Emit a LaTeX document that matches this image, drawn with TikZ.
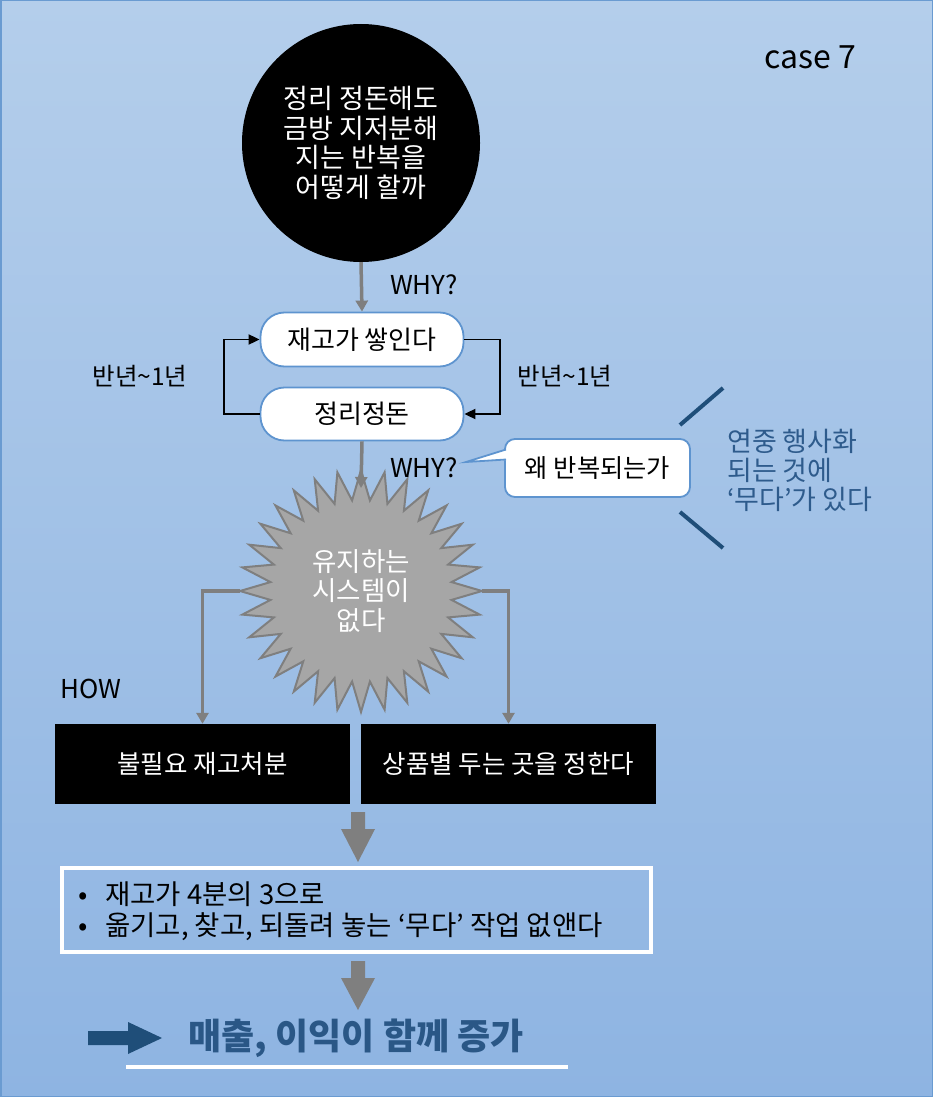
\documentclass[tikz,border=0pt]{standalone}
\usepackage{fontspec}
\setmainfont{Noto Sans CJK KR}
\usetikzlibrary{arrows.meta,calc}
\definecolor{bgtop}{HTML}{B4CEEB}
\definecolor{bgbot}{HTML}{8EB4E2}
\definecolor{framec}{HTML}{6A9BD1}
\definecolor{boxline}{HTML}{5E94CF}
\definecolor{arrgray}{HTML}{7F7F7F}
\definecolor{starfill}{HTML}{A6A6A6}
\definecolor{darkblue}{HTML}{1F4E79}
\definecolor{textblue}{HTML}{2E5B8C}
\definecolor{titleblue}{HTML}{2A5786}
\begin{document}
\begin{tikzpicture}[x=1pt,y=-1pt,
  txt/.style={inner sep=0pt, font=\fontsize{26}{30}\selectfont},
  pill/.style={draw=boxline, line width=1.8pt, fill=white, rounded corners=24pt,
    minimum width=203pt, minimum height=54pt, inner sep=0pt, font=\fontsize{26}{30}\selectfont},
  blackbox/.style={fill=black, text=white, minimum width=295pt, minimum height=80pt,
    inner sep=0pt, font=\fontsize{25.5}{30}\selectfont},
  grayarrow/.style={draw=arrgray, line width=3.5pt, -{Triangle[length=11pt,width=12pt]}},
  blackarrow/.style={draw=black, line width=1.8pt, -{Triangle[length=11pt,width=10pt]}},
  slash/.style={draw=darkblue, line width=4pt},
]
\shade[top color=bgtop, bottom color=bgbot] (0,0) rectangle (933,1097);
\draw[framec, line width=1.5pt] (0.75,0.75) rectangle (932.25,1096.25);
\useasboundingbox (0,0) rectangle (933,1097);

% title circle
\node[circle, fill=black, minimum size=238pt, inner sep=0pt, text=white, align=center,
  font=\fontsize{27}{29.5}\selectfont] (q) at (361,143)
  {정리 정돈해도\\금방 지저분해\\지는 반복을\\어떻게 할까};
\node[txt, font=\fontsize{32}{36}\selectfont] (case) at (810,57) {case 7};

% loop boxes
\node[pill] (b1) at (362,339.5) {재고가 쌓인다};
\node[pill, minimum height=53pt] (b2) at (362,414) {정리정돈};
\coordinate (rx) at (500,0);
\coordinate (lx) at (224,0);
\draw[grayarrow] (q.south) -- (b1.north);
\node[txt] (why1) at (424,285) {WHY?};
\draw[blackarrow] (b1.east) -- (b1.east -| rx) |- (b2.east);
\draw[blackarrow] (b2.west) -- (b2.west -| lx) |- (b1.west);
\node[txt, font=\fontsize{24.5}{30}\selectfont] (half1) at (140,376) {반년\string~1년};
\node[txt, font=\fontsize{24.5}{30}\selectfont] (half2) at (565,376) {반년\string~1년};

% star
\node[circle, minimum size=242pt, inner sep=0pt] (star) at (361,591) {};
\draw[fill=starfill, draw=arrgray, line width=2pt]
  plot[samples at={0,...,63}, variable=\k]
  ({361+ifthenelse(mod(\k,2)==0,121,91)*cos(\k*5.625)},
   {591+ifthenelse(mod(\k,2)==0,121,91)*sin(\k*5.625)}) -- cycle;
\node[inner sep=0pt, text=white, align=center,
  font=\fontsize{26.5}{29.5}\selectfont] (startext) at (star.center) {유지하는\\시스템이\\없다};
\coordinate (startop) at (361,488);
\draw[grayarrow] (b2.south) -- (startop);
\node[txt] (why2) at (424,468) {WHY?};

% callout
\node[draw=boxline, line width=1.8pt, fill=white, rounded corners=10pt,
  minimum width=185pt, minimum height=58pt, inner sep=0pt,
  font=\fontsize{25.3}{30}\selectfont] (cw) at (597.5,468) {왜 반복되는가};
\fill[white] (508,449.5) -- (466,462) -- (508,460) -- cycle;
\draw[boxline, line width=1.8pt, line join=miter] (506,449.5) -- (466,462) -- (506,459.5);

% right remark
\draw[slash] (680,425) -- (723,388);
\draw[slash] (680,512) -- (723,548);
\node[txt, anchor=west, align=left, text=textblue, font=\fontsize{27}{29}\selectfont]
  (rem) at (727,470) {연중 행사화\\되는 것에\\‘무다’가 있다};

% HOW boxes
\node[txt] (how) at (91,689) {HOW};
\node[blackbox] (b3) at (202.5,764) {불필요 재고처분};
\node[blackbox] (b4) at (508.5,764) {상품별 두는 곳을 정한다};
\draw[grayarrow] (star.west) -| (b3.north);
\draw[grayarrow] (star.east) -| (b4.north);

% fat arrows
\fill[arrgray] (351,812) -- (365,812) -- (365,829) -- (375,829) -- (358,862)
  -- (341,829) -- (351,829) -- cycle;
\node[draw=white, line width=3.5pt, minimum width=589pt, minimum height=84pt,
  inner sep=0pt] (res) at (356.5,910) {};
\node[txt, anchor=west, align=left, font=\fontsize{27.5}{31}\selectfont] (bul) at (78,911)
  {\makebox[27pt][l]{•}재고가 4분의 3으로\\\makebox[27pt][l]{•}옮기고, 찾고, 되돌려 놓는 ‘무다’ 작업 없앤다};
\fill[arrgray] (351,961) -- (365,961) -- (365,978) -- (375,978) -- (358,1010)
  -- (341,978) -- (351,978) -- cycle;

% result
\fill[darkblue] (88,1031) -- (128,1031) -- (128,1022) -- (162,1038) -- (128,1054)
  -- (128,1045) -- (88,1045) -- cycle;
\node[txt, text=titleblue, font=\bfseries\fontsize{36}{40}\selectfont] (fin) at (356,1038)
  {매출, 이익이 함께 증가};
\draw[white, line width=4pt] (126,1067) -- (568,1067);
\end{tikzpicture}
\end{document}
